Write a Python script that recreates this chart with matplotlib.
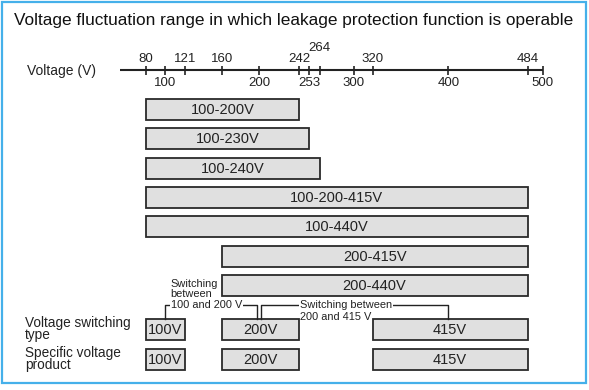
import matplotlib
matplotlib.use("Agg")
import matplotlib.pyplot as plt
from matplotlib.patches import Rectangle

plt.rcParams['font.family'] = ['Liberation Sans', 'DejaVu Sans']

# data
title = 'Voltage fluctuation range in which leakage protection function is operable'
ticks_top = [80, 121, 160, 242, 320, 484]
ticks_high = [264]
ticks_bottom = [100, 200, 253, 300, 400, 500]

range_labels = ['100-200V', '100-230V', '100-240V', '100-200-415V',
                '100-440V', '200-415V', '200-440V']
range_lo = [80, 80, 80, 80, 80, 160, 160]
range_hi = [242, 253, 264, 484, 484, 484, 484]

prod_labels = ['100V', '200V', '415V']
prod_lo = [80, 160, 320]
prod_hi = [121, 242, 484]
row_names = ['Voltage switching\ntype', 'Specific voltage\nproduct']

# x is volts, y is pixel rows from the top
fig = plt.figure(figsize=(5.89, 3.90), dpi=100)
ax = fig.add_axes([0, 0, 1, 1])
ax.set_xlim(-74.6, 549.0)
ax.set_ylim(390, 0)
ax.axis('off')

fig.text(14 / 589, 1 - 20 / 390, title, fontsize=12.45, ha='left', va='center',
         color='#111111')

# voltage axis
ax.text(-46.5, 71.5, 'Voltage (V)', fontsize=10, ha='left', va='center', color='#222222')
ax.plot([52.5, 500], [70, 70], color='#222222', lw=1.5, solid_capstyle='butt')
all_ticks = ticks_top + ticks_high + ticks_bottom
ax.vlines(all_ticks, 65.5, 74.5, color='#222222', lw=1.2)
for v in ticks_top:
    ax.text(v, 58.5, str(v), fontsize=9.5, ha='center', va='center', color='#222222')
for v in ticks_high:
    ax.text(v, 48, str(v), fontsize=9.5, ha='center', va='center', color='#222222')
for v in ticks_bottom:
    ax.text(v, 82.5, str(v), fontsize=9.5, ha='center', va='center', color='#222222')

box_style = dict(height=21, color='#e0e0e0', edgecolor='#2a2a2a', linewidth=1.3)

# range bars
range_y = [109.5 + i * 29.35 for i in range(len(range_labels))]
ax.barh(range_y, [h - l for l, h in zip(range_lo, range_hi)], left=range_lo, **box_style)
for y, l, h, s in zip(range_y, range_lo, range_hi, range_labels):
    ax.text((l + h) / 2, y + 0.5, s, fontsize=10.5, ha='center', va='center', color='#222222')

# product rows
for y, name in zip([329, 359], row_names):
    ax.barh([y] * 3, [h - l for l, h in zip(prod_lo, prod_hi)], left=prod_lo, **box_style)
    for l, h, s in zip(prod_lo, prod_hi, prod_labels):
        ax.text((l + h) / 2, y + 0.5, s, fontsize=10.5, ha='center', va='center', color='#222222')
    ax.text(-74.6 + 25 / 0.9445, y, name, fontsize=9.8, ha='left', va='center',
            linespacing=0.8, color='#222222')

# switching brackets
ax.plot([100, 100, 198, 198], [318.5, 305, 305, 318.5], color='#222222', lw=1)
ax.plot([202, 202, 400, 400], [318.5, 305, 305, 318.5], color='#222222', lw=1)
note = dict(fontsize=7.9, color='#222222', ha='left')
ax.text(106, 299, 'Switching\nbetween', va='bottom', linespacing=0.95, **note)
ax.text(106, 305.5, '100 and 200 V', va='center',
        bbox=dict(facecolor='white', edgecolor='none', pad=0.4), **note)
ax.text(243, 305.5, 'Switching between', va='center',
        bbox=dict(facecolor='white', edgecolor='none', pad=0.4), **note)
ax.text(243, 316.5, '200 and 415 V', va='center', **note)

# light blue frame
fig.patches.append(Rectangle((1.5 / 589, 1 - 383 / 390), 584.5 / 589, 381 / 390,
                             transform=fig.transFigure, fill=False,
                             edgecolor='#45b0ea', linewidth=1.6))

fig.savefig('out.png', dpi=100)
